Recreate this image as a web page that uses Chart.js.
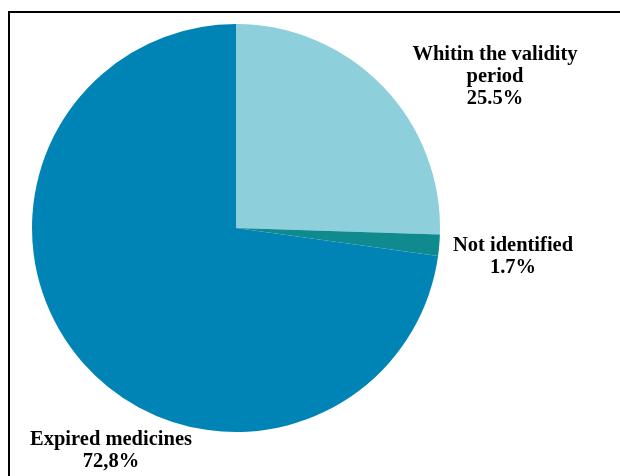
<!DOCTYPE html>
<html>
<head>
<meta charset="utf-8">
<script src="https://cdn.jsdelivr.net/npm/chart.js@4"></script>
<style>
    html, body { margin: 0; padding: 0; background: #fff; }
    #wrap { position: relative; width: 620px; height: 476px; overflow: hidden; }
    #frame {
        position: absolute; left: 8px; top: 11px; width: 700px; height: 600px;
        border-top: 2px solid #000; border-left: 2px solid #000;
    }
    canvas { position: absolute; left: 0; top: 0; }
</style>
</head>
<body>
<div id="wrap">
    <div id="frame"></div>
    <canvas id="pie" width="620" height="476"></canvas>
</div>
<script>
// --- data ---
const categories = ['Whitin the validity period', 'Not identified', 'Expired medicines'];
const values = [25.5, 1.7, 72.8];
const valueLabels = ['25.5%', '1.7%', '72,8%'];
const labelLines = [['Whitin the validity', 'period'], ['Not identified'], ['Expired medicines']];

// --- style ---
const colors = ['#8dcfdb', '#0f8b90', '#0084b6'];
// label anchor (centre of first line), in pixels
const labelAnchors = [[495, 55], [513, 246], [111, 440]];

const sliceLabels = {
    id: 'sliceLabels',
    afterDraw(chart) {
        const ctx = chart.ctx;
        ctx.save();
        ctx.fillStyle = '#000';
        ctx.font = 'bold 20.5px "Liberation Serif", "Times New Roman", serif';
        ctx.textAlign = 'center';
        ctx.textBaseline = 'middle';
        const meta = chart.getDatasetMeta(0);
        meta.data.forEach((arc, i) => {
            const [x, y] = labelAnchors[i];
            const lines = labelLines[i].concat([valueLabels[i]]);
            lines.forEach((t, k) => ctx.fillText(t, x, y + k * 22));
        });
        ctx.restore();
    }
};

new Chart(document.getElementById('pie').getContext('2d'), {
    type: 'pie',
    data: {
        labels: categories,
        datasets: [{
            data: values,
            backgroundColor: colors,
            borderWidth: 0
        }]
    },
    options: {
        responsive: false,
        animation: false,
        layout: { padding: { left: 32, top: 24, right: 180, bottom: 44 } },
        plugins: {
            legend: { display: false },
            tooltip: { enabled: false }
        }
    },
    plugins: [sliceLabels]
});
</script>
</body>
</html>
